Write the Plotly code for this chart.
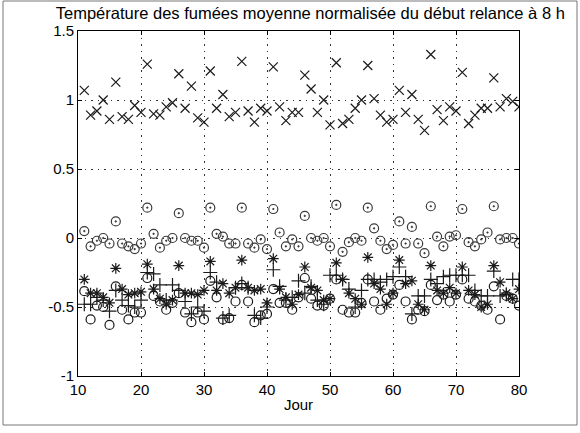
import plotly.graph_objects as go

days = list(range(11, 81))

serie_x = [1.07, 0.89, 0.92, 1.00, 0.86, 1.13, 0.88, 0.86, 0.96, 0.91,
           1.26, 0.90, 0.89, 0.95, 0.98, 1.19, 0.94, 1.10, 0.87, 0.84,
           1.21, 0.94, 1.04, 0.88, 0.91, 1.28, 0.92, 0.84, 0.94, 0.92,
           1.24, 0.95, 0.85, 0.91, 0.91, 1.18, 1.08, 0.91, 1.00, 0.82,
           1.27, 0.83, 0.86, 0.94, 1.00, 1.25, 1.01, 0.89, 0.84, 0.86,
           1.07, 0.91, 1.04, 0.86, 0.78, 1.33, 0.93, 0.85, 0.95, 0.92,
           1.20, 0.83, 0.89, 0.94, 0.94, 1.16, 0.95, 1.01, 0.99, 0.95]

serie_od = [0.05, -0.06, -0.02, 0.00, -0.04, 0.12, -0.04, -0.06, -0.08, -0.04,
            0.22, 0.03, -0.07, -0.02, 0.00, 0.18, 0.00, -0.02, -0.02, -0.07,
            0.22, 0.03, 0.01, -0.04, -0.04, 0.22, -0.04, -0.07, -0.01, -0.08,
            0.21, 0.04, -0.06, -0.01, -0.06, 0.16, 0.00, -0.02, 0.00, -0.06,
            0.24, -0.10, -0.03, 0.00, -0.02, 0.22, 0.07, -0.02, -0.08, -0.05,
            0.12, -0.04, 0.08, -0.04, -0.11, 0.23, 0.01, -0.06, 0.01, 0.02,
            0.21, -0.03, -0.06, -0.01, 0.04, 0.23, -0.01, 0.00, 0.00, -0.04]

serie_ast = [-0.30, -0.40, -0.40, -0.43, -0.47, -0.22, -0.37, -0.41, -0.40, -0.39,
             -0.19, -0.37, -0.44, -0.48, -0.45, -0.20, -0.40, -0.40, -0.41, -0.38,
             -0.17, -0.38, -0.33, -0.40, -0.36, -0.16, -0.36, -0.38, -0.37, -0.47,
             -0.15, -0.37, -0.43, -0.48, -0.41, -0.21, -0.36, -0.38, -0.45, -0.44,
             -0.18, -0.30, -0.40, -0.44, -0.48, -0.14, -0.33, -0.37, -0.48, -0.40,
             -0.16, -0.33, -0.31, -0.48, -0.52, -0.20, -0.38, -0.40, -0.36, -0.40,
             -0.21, -0.38, -0.41, -0.50, -0.48, -0.20, -0.32, -0.40, -0.44, -0.37]

serie_plus = [-0.48, -0.48, -0.43, -0.45, -0.53, -0.38, -0.45, -0.49, -0.50, -0.45,
              -0.25, -0.26, -0.34, -0.45, -0.34, -0.38, -0.46, -0.55, -0.50, -0.53,
              -0.25, -0.32, -0.58, -0.56, -0.36, -0.33, -0.36, -0.56, -0.58, -0.50,
              -0.23, -0.35, -0.45, -0.43, -0.31, -0.40, -0.35, -0.45, -0.48, -0.27,
              -0.27, -0.30, -0.37, -0.50, -0.38, -0.30, -0.30, -0.32, -0.30, -0.28,
              -0.21, -0.28, -0.55, -0.42, -0.42, -0.30, -0.33, -0.28, -0.27, -0.27,
              -0.27, -0.27, -0.38, -0.42, -0.42, -0.24, -0.42, -0.41, -0.30, -0.30]

serie_o = [-0.385, -0.59, -0.49, -0.50, -0.63, -0.35, -0.52, -0.59, -0.54, -0.54,
           -0.29, -0.42, -0.46, -0.52, -0.47, -0.40, -0.54, -0.61, -0.54, -0.59,
           -0.31, -0.43, -0.59, -0.58, -0.46, -0.34, -0.46, -0.61, -0.56, -0.55,
           -0.37, -0.47, -0.47, -0.52, -0.43, -0.29, -0.44, -0.49, -0.49, -0.44,
           -0.30, -0.52, -0.54, -0.54, -0.47, -0.30, -0.46, -0.52, -0.44, -0.41,
           -0.34, -0.46, -0.59, -0.52, -0.53, -0.34, -0.45, -0.41, -0.46, -0.41,
           -0.30, -0.44, -0.46, -0.49, -0.52, -0.35, -0.59, -0.42, -0.44, -0.49]

x_ticks = [10, 20, 30, 40, 50, 60, 70, 80]
y_ticks = [-1, -0.5, 0, 0.5, 1, 1.5]
y_labels = ["-1", "-0.5", "0", "0.5", "1", "1.5"]

ink = "#1a1a1a"
series = [
    (serie_o, "circle-open", 9, ink),
    (serie_plus, "cross-thin-open", 10, ink),
    (serie_ast, "asterisk-open", 9, ink),
    (serie_od, "circle-open-dot", 9, "#3a3a3a"),
    (serie_x, "x-thin-open", 9, ink),
]

fig = go.Figure()
for vals, sym, size, col in series:
    fig.add_trace(go.Scatter(
        x=days, y=vals, mode="markers",
        marker=dict(symbol=sym, size=size, color=col,
                    line=dict(width=1.2, color=col)),
        showlegend=False, hoverinfo="skip"))

font = "Liberation Sans, Arial, sans-serif"
axis_common = dict(
    showline=True, linecolor="black", linewidth=1, mirror="ticks",
    ticks="inside", ticklen=4, tickcolor="black",
    showgrid=True, gridcolor="#333333", griddash="1.5px,5px", gridwidth=1.2,
    zeroline=False, tickfont=dict(family=font, size=15, color="black"),
)

fig.update_layout(
    width=580, height=433,
    margin=dict(l=78, r=61, t=31, b=57),
    paper_bgcolor="white", plot_bgcolor="white",
    font=dict(family=font, color="black"),
    title=dict(text="Température des fumées moyenne normalisée du début relance à 8 h",
               x=0.535, xanchor="center", y=0.97, yanchor="middle",
               yref="container", font=dict(size=16.5, family=font, color="black")),
    xaxis=dict(range=[10, 80], tickvals=x_ticks, ticktext=[str(v) for v in x_ticks],
               title=dict(text="Jour", font=dict(size=15, family=font), standoff=2),
               **axis_common),
    yaxis=dict(range=[-1, 1.5], tickvals=y_ticks, ticktext=y_labels, **axis_common),
    shapes=[
        dict(type="rect", xref="paper", yref="paper",
             x0=-75/441, x1=(577-78)/441, y0=-(425-376)/345, y1=(376-1)/345,
             line=dict(color="#777777", width=1), fillcolor="rgba(0,0,0,0)",
             layer="below"),
    ],
)

fig.write_html("out.html")
